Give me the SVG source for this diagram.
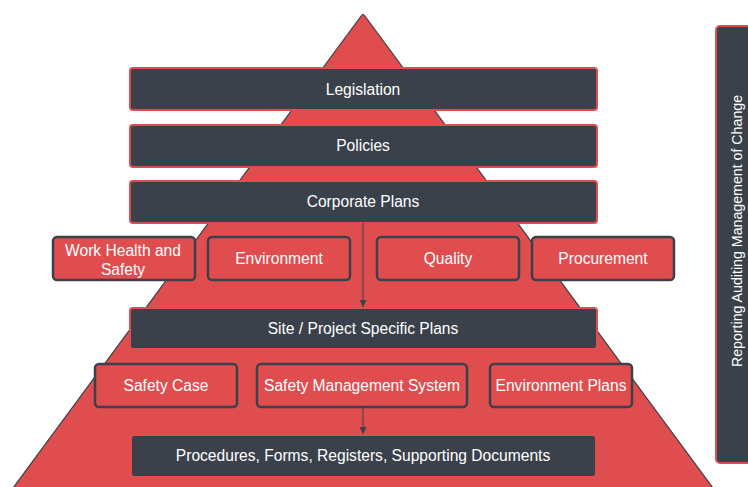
<svg xmlns="http://www.w3.org/2000/svg" width="748" height="487" viewBox="0 0 748 487">
<defs>
<style>
.tri{fill:#e04d4e;stroke:#3a4049;stroke-width:1.2;stroke-linejoin:round}
.dark{fill:#3a414b;stroke:#e04d4e;stroke-width:2}
.red{fill:#e04d4e;stroke:#3a414b;stroke-width:2.5}
.t{font-family:"Liberation Sans",Arial,sans-serif;font-size:15.6px;fill:#ffffff;text-anchor:middle;dominant-baseline:central}
.s{font-size:14.2px}
.c{stroke:#3a414b;stroke-width:1;fill:none}
</style>
<marker id="ah" viewBox="0 0 10 10" refX="10" refY="5" markerWidth="7" markerHeight="7" markerUnits="userSpaceOnUse" orient="auto">
<path d="M0,0 L10,5 L0,10 z" fill="#3a414b"/>
</marker>
</defs>
<rect width="748" height="487" fill="#ffffff"/>
<g id="pyramid">
<path class="tri" d="M361.5,15.5 Q363,13 364.5,15.5 L713,488 L13,488 Z"/>
</g>
<g id="legislation"><rect class="dark" x="130" y="68" width="467" height="42" rx="3"/><text class="t" x="363" y="89">Legislation</text></g>
<g id="policies"><rect class="dark" x="130" y="125" width="467" height="42" rx="3"/><text class="t" x="363" y="145">Policies</text></g>
<g id="corporate"><rect class="dark" x="130" y="181" width="467" height="42" rx="3"/><text class="t" x="363" y="201">Corporate Plans</text></g>
<g id="whs"><rect class="red" x="53" y="237" width="142" height="43" rx="4"/><text class="t" x="123" y="250">Work Health and</text><text class="t" x="123" y="269">Safety</text></g>
<g id="environment"><rect class="red" x="208" y="237" width="142" height="43" rx="4"/><text class="t" x="279" y="258">Environment</text></g>
<g id="quality"><rect class="red" x="377" y="237" width="142" height="43" rx="4"/><text class="t" x="448" y="258">Quality</text></g>
<g id="procurement"><rect class="red" x="532" y="237" width="142" height="43" rx="4"/><text class="t" x="603" y="258">Procurement</text></g>
<g id="site"><rect class="dark" x="130" y="308" width="467" height="41" rx="3"/><text class="t" x="363" y="328">Site / Project Specific Plans</text></g>
<g id="safetycase"><rect class="red" x="95" y="364" width="142" height="43" rx="4"/><text class="t" x="166" y="385">Safety Case</text></g>
<g id="sms"><rect class="red" x="257" y="364" width="210" height="43" rx="4"/><text class="t" x="362" y="385">Safety Management System</text></g>
<g id="envplans"><rect class="red" x="490" y="364" width="142" height="43" rx="4"/><text class="t" x="561" y="385">Environment Plans</text></g>
<g id="procedures"><rect class="dark" x="131" y="435" width="465" height="42" rx="3"/><text class="t" x="363" y="455">Procedures, Forms, Registers, Supporting Documents</text></g>
<g id="side"><rect class="dark" x="716" y="26" width="40" height="437" rx="4"/><text class="t s" x="737" y="231" transform="rotate(-90 737 231)">Reporting Auditing Management of Change</text></g>
<g id="connectors">
<line class="c" x1="363" y1="223" x2="363" y2="307" marker-end="url(#ah)"/>
<line class="c" x1="363" y1="407" x2="363" y2="434" marker-end="url(#ah)"/>
</g>
</svg>
